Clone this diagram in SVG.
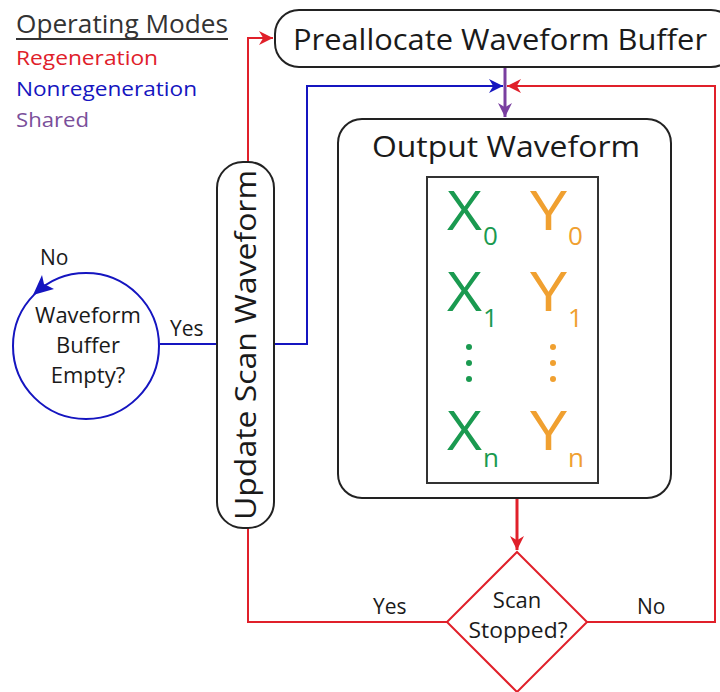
<svg xmlns="http://www.w3.org/2000/svg" width="720" height="692" viewBox="0 0 720 692">
<style>
text{font-family:"Open Sans","Noto Sans",sans-serif;fill:#1a1a1a}
.box{fill:#fff;stroke:#222;stroke-width:2}
.red{fill:none;stroke:#e0202a;stroke-width:2}
.blue{fill:none;stroke:#1515c0;stroke-width:2}
.pur{fill:none;stroke:#7a3fa0;stroke-width:3}
</style>
<defs>
<marker id="arR" viewBox="0 0 10 10" refX="10" refY="5" markerWidth="16" markerHeight="14" markerUnits="userSpaceOnUse" orient="auto"><path d="M0,0L10,5L0,10L3,5z" fill="#e0202a"/></marker>
<marker id="ab" viewBox="0 0 10 10" refX="10" refY="5" markerWidth="16" markerHeight="14" markerUnits="userSpaceOnUse" orient="auto"><path d="M0,0L10,5L0,10L3,5z" fill="#1515c0"/></marker>
<marker id="ap" viewBox="0 0 10 10" refX="10" refY="5" markerWidth="16" markerHeight="14" markerUnits="userSpaceOnUse" orient="auto"><path d="M0,0L10,5L0,10L3,5z" fill="#7a3fa0"/></marker>
</defs>

<g id="legend">
<text x="16" y="33" font-size="25" textLength="212" lengthAdjust="spacingAndGlyphs" style="fill:#333">Operating Modes</text>
<line x1="16" y1="39" x2="228" y2="39" stroke="#333" stroke-width="2"/>
<text x="16" y="65" font-size="20" textLength="142" lengthAdjust="spacingAndGlyphs" style="fill:#e0202a">Regeneration</text>
<text x="16" y="96" font-size="20" textLength="181" lengthAdjust="spacingAndGlyphs" style="fill:#1515c0">Nonregeneration</text>
<text x="16" y="127" font-size="20" textLength="73" lengthAdjust="spacingAndGlyphs" style="fill:#7a4f9a">Shared</text>
</g>

<g id="connectors">
<polyline class="red" points="248,162 248,38 273,38" marker-end="url(#arR)"/>
<polyline class="red" points="447,622 248,622 248,528"/>
<polyline class="red" points="587,622 715,622 715,86 507,86" marker-end="url(#arR)"/>
<polyline class="blue" points="274,344 307,344 307,86 503,86" marker-end="url(#ab)"/>
<line class="blue" x1="160" y1="344" x2="217" y2="344"/>
<line class="pur" x1="505" y1="67" x2="505" y2="117" marker-end="url(#ap)"/>
<line x1="517" y1="498" x2="517" y2="550" stroke="#e0202a" stroke-width="3" marker-end="url(#arR)"/>
<line class="pur" x1="397" y1="178" x2="397" y2="480" marker-end="url(#ap)"/>
<text x="170" y="336" font-size="21">Yes</text>
<text x="40" y="265" font-size="21">No</text>
<text x="373" y="614" font-size="21">Yes</text>
<text x="637" y="614" font-size="21">No</text>
</g>

<g id="preallocate">
<rect class="box" x="275" y="10" width="460" height="57" rx="24"/>
<text x="293" y="50" font-size="30" textLength="414" lengthAdjust="spacingAndGlyphs">Preallocate Waveform Buffer</text>
</g>

<g id="update">
<rect class="box" x="217" y="162" width="57" height="366" rx="26"/>
<text transform="translate(256,345) rotate(-90)" text-anchor="middle" font-size="30" textLength="350" lengthAdjust="spacingAndGlyphs">Update Scan Waveform</text>
</g>

<g id="output">
<rect class="box" x="338" y="119" width="333" height="379" rx="24"/>
<text x="372" y="157" font-size="30" textLength="268" lengthAdjust="spacingAndGlyphs">Output Waveform</text>
<rect x="427" y="177" width="171" height="306" fill="none" stroke="#333" stroke-width="2"/>
<text x="447" y="230" font-size="54" textLength="35" lengthAdjust="spacingAndGlyphs" style="fill:#1a9a50">X</text>
<text x="483" y="245" font-size="26" style="fill:#1a9a50">0</text>
<text x="530" y="230" font-size="54" textLength="37" lengthAdjust="spacingAndGlyphs" style="fill:#f0a030">Y</text>
<text x="568" y="245" font-size="26" style="fill:#f0a030">0</text>
<text x="447" y="311" font-size="54" textLength="35" lengthAdjust="spacingAndGlyphs" style="fill:#1a9a50">X</text>
<text x="483" y="327" font-size="26" style="fill:#1a9a50">1</text>
<text x="530" y="311" font-size="54" textLength="37" lengthAdjust="spacingAndGlyphs" style="fill:#f0a030">Y</text>
<text x="568" y="327" font-size="26" style="fill:#f0a030">1</text>
<circle cx="469" cy="347" r="3" fill="#1a9a50"/>
<circle cx="469" cy="363" r="3" fill="#1a9a50"/>
<circle cx="469" cy="379" r="3" fill="#1a9a50"/>
<circle cx="553" cy="347" r="3" fill="#f0a030"/>
<circle cx="553" cy="363" r="3" fill="#f0a030"/>
<circle cx="553" cy="379" r="3" fill="#f0a030"/>
<text x="447" y="450" font-size="54" textLength="35" lengthAdjust="spacingAndGlyphs" style="fill:#1a9a50">X</text>
<text x="483" y="467" font-size="26" style="fill:#1a9a50">n</text>
<text x="530" y="450" font-size="54" textLength="37" lengthAdjust="spacingAndGlyphs" style="fill:#f0a030">Y</text>
<text x="568" y="467" font-size="26" style="fill:#f0a030">n</text>
</g>

<g id="buffer-empty">
<circle cx="86" cy="346" r="73" fill="#fff" stroke="#1515c0" stroke-width="2"/>
<polygon points="33,295 42,275 44,284 54,289" fill="#1515c0"/>
<text x="88" y="323" font-size="22" text-anchor="middle">Waveform</text>
<text x="88" y="353" font-size="22" text-anchor="middle">Buffer</text>
<text x="88" y="383" font-size="22" text-anchor="middle">Empty?</text>
</g>

<g id="scan-stopped">
<polygon points="517,552 587,622 517,692 447,622" fill="#fff" stroke="#e0202a" stroke-width="2"/>
<text x="517" y="608" font-size="22" text-anchor="middle">Scan</text>
<text x="518" y="638" font-size="22" text-anchor="middle" textLength="99" lengthAdjust="spacingAndGlyphs">Stopped?</text>
</g>
</svg>
